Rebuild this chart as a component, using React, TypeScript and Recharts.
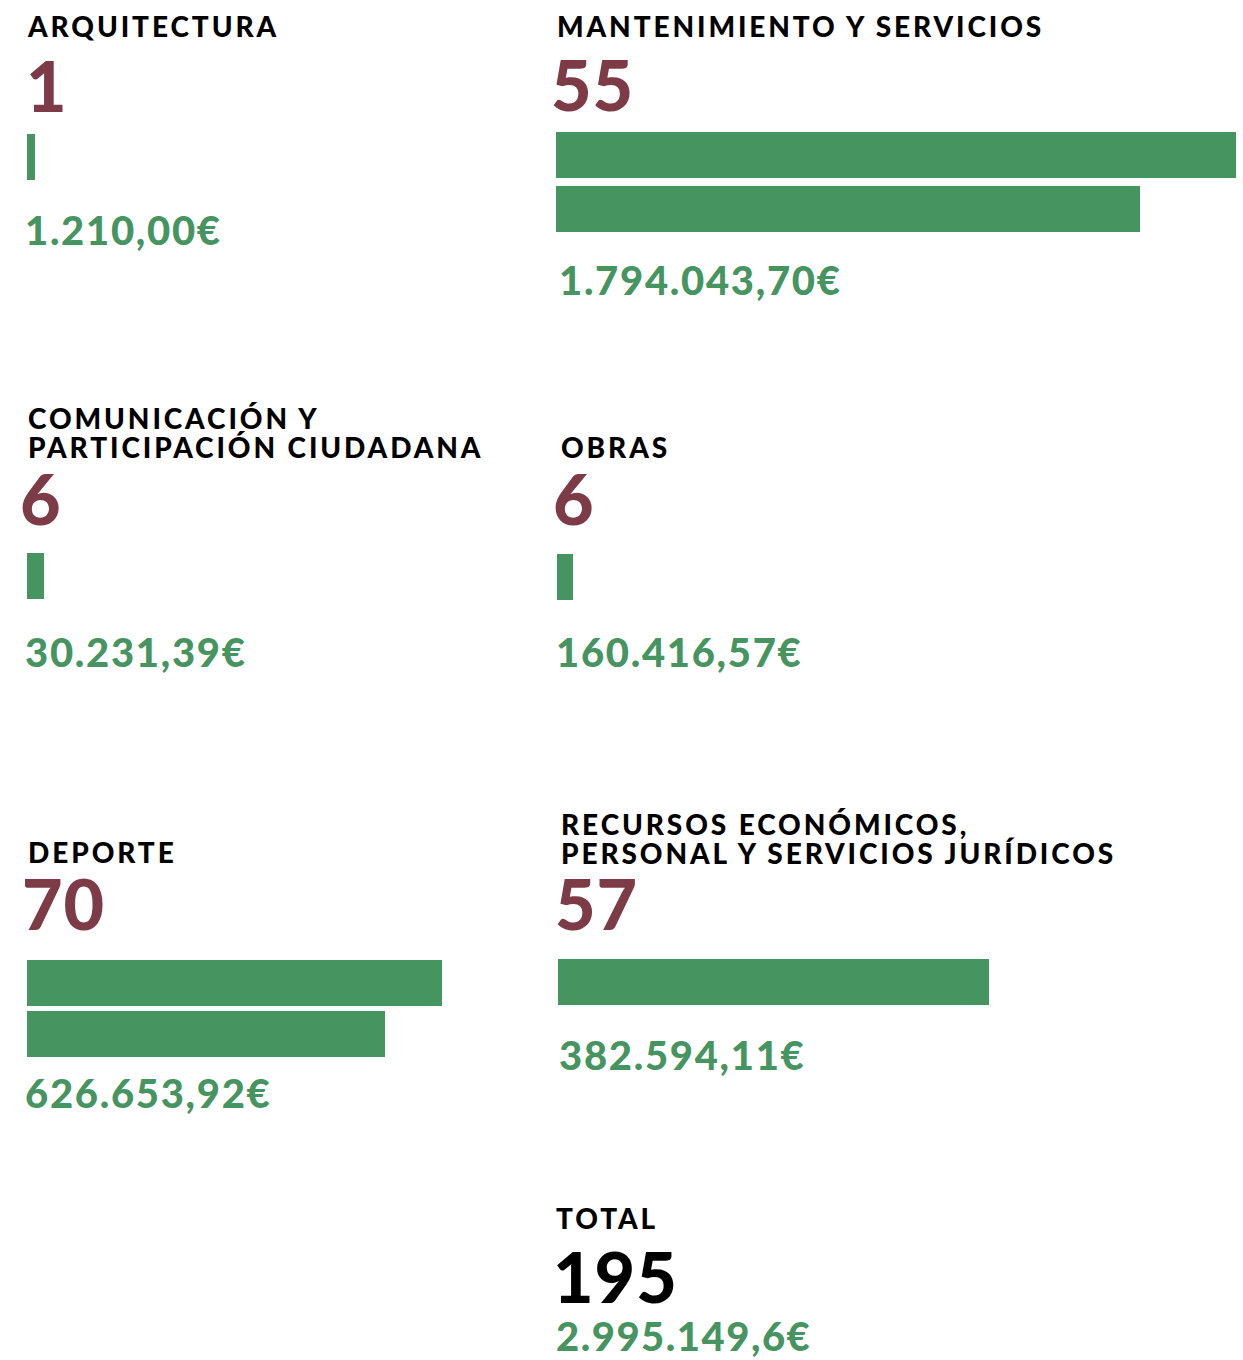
import React from 'react';
import { BarChart, Bar, XAxis, YAxis } from 'recharts';

// contract counts, amounts and bar lengths per area
const titles = [
  ['ARQUITECTURA'],
  ['MANTENIMIENTO Y SERVICIOS'],
  ['COMUNICACIÓN Y', 'PARTICIPACIÓN CIUDADANA'],
  ['OBRAS'],
  ['DEPORTE'],
  ['RECURSOS ECONÓMICOS,', 'PERSONAL Y SERVICIOS JURÍDICOS'],
];
const counts = [1, 55, 6, 6, 70, 57];
const amounts = ['1.210,00€', '1.794.043,70€', '30.231,39€', '160.416,57€', '626.653,92€', '382.594,11€'];
const barRows = [[8], [680, 584], [17], [16], [415, 358], [431]];
const totalLabel = 'TOTAL';
const totalCount = 195;
const totalAmount = '2.995.149,6€';

const GREEN = '#46945F';
const MAROON = '#7D3B47';
const FONT = 'Lato, "Open Sans", sans-serif';
const MAX = 680;
const BAR = 46;

// where each block sits on the page
const layout = [
  { tx: 28, tb: [37], nx: 26, nb: 112, bx: 27, by: 134, row: 54, ax: 25, ab: 245 },
  { tx: 557, tb: [37], nx: 551, nb: 111, bx: 556, by: 132, row: 54, ax: 559, ab: 295 },
  { tx: 28, tb: [429, 458], nx: 20, nb: 525, bx: 27, by: 553, row: 54, ax: 25, ab: 667 },
  { tx: 561, tb: [458], nx: 553, nb: 525, bx: 557, by: 554, row: 54, ax: 556, ab: 667 },
  { tx: 28, tb: [863], nx: 22, nb: 930, bx: 27, by: 959, row: 51, ax: 25, ab: 1108 },
  { tx: 561, tb: [835, 864], nx: 555, nb: 930, bx: 558, by: 959, row: 54, ax: 559, ab: 1070 },
];

const AreaBars = ({ rows, row }: { rows: number[]; row: number }) => {
  const data = rows.map((v, i) => ({ row: `r${i}`, value: v }));
  return (
    <BarChart
      width={MAX}
      height={rows.length * row}
      data={data}
      layout="vertical"
      margin={{ top: 0, right: 0, bottom: 0, left: 0 }}
      barCategoryGap={0}
    >
      <XAxis type="number" domain={[0, MAX]} hide />
      <YAxis type="category" dataKey="row" hide />
      <Bar dataKey="value" fill={GREEN} barSize={BAR} isAnimationActive={false} />
    </BarChart>
  );
};

export default function App() {
  return (
    <div style={{ position: 'absolute', left: 0, top: 0, width: 1243, height: 1360, background: '#fff' }}>
      {layout.map((l, i) => (
        <div key={i} style={{ position: 'absolute', left: l.bx, top: l.by - (l.row - BAR) / 2 }}>
          <AreaBars rows={barRows[i]} row={l.row} />
        </div>
      ))}
      <svg width={1243} height={1360} style={{ position: 'absolute', left: 0, top: 0, pointerEvents: 'none' }}>
        <g fontFamily={FONT} fontWeight={900}>
          {layout.map((l, i) => (
            <g key={i}>
              {titles[i].map((t, j) => (
                <text key={j} x={l.tx} y={l.tb[j]} fontSize={28} letterSpacing={2.9} fill="#000">{t}</text>
              ))}
              <text x={l.nx} y={l.nb} fontSize={70} letterSpacing={1} fill={MAROON}>{counts[i]}</text>
              <text x={l.ax} y={l.ab} fontSize={40} letterSpacing={1.7} fill={GREEN}>{amounts[i]}</text>
            </g>
          ))}
          <text x={556} y={1229} fontSize={28} letterSpacing={2.9} fill="#000">{totalLabel}</text>
          <text x={553} y={1303} fontSize={70} letterSpacing={1} fill="#000">{totalCount}</text>
          <text x={556} y={1351} fontSize={40} letterSpacing={1.5} fill={GREEN}>{totalAmount}</text>
        </g>
      </svg>
    </div>
  );
}
